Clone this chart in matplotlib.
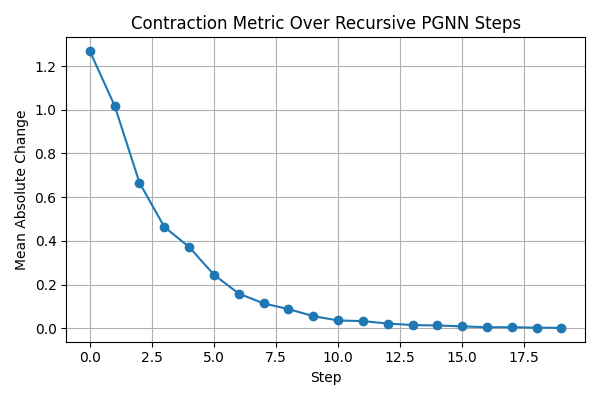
import matplotlib
matplotlib.use("Agg")
from matplotlib import pyplot as plt

# values
steps = list(range(20))
mean_abs_change = [1.268, 1.018, 0.666, 0.464, 0.372, 0.245, 0.159, 0.114,
                   0.088, 0.056, 0.036, 0.033, 0.022, 0.015, 0.013, 0.009,
                   0.005, 0.005, 0.003, 0.002]

plt.figure(figsize=(6, 4), dpi=100)
plt.plot(steps, mean_abs_change, marker='o')
plt.title('Contraction Metric Over Recursive PGNN Steps')
plt.xlabel('Step')
plt.ylabel('Mean Absolute Change')
plt.grid(True)
plt.tight_layout()
plt.savefig('out.png')
plt.close()
